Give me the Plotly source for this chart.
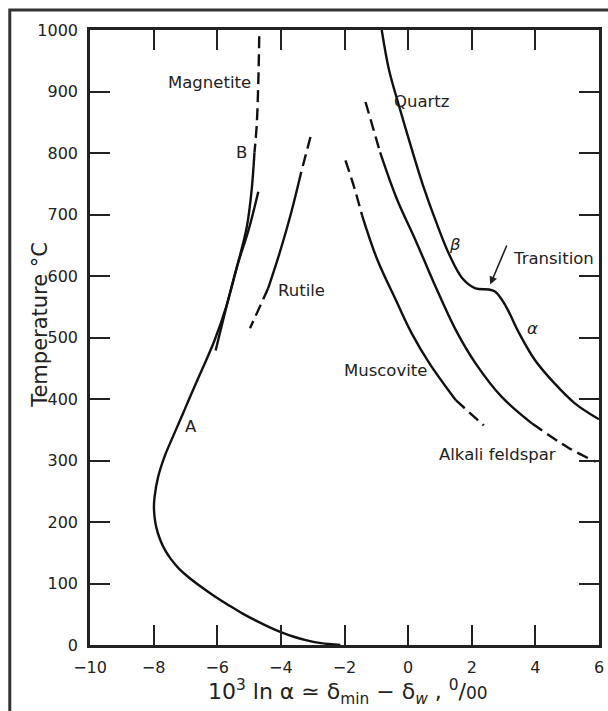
import plotly.graph_objects as go

# ---------------- data ----------------
x_tick_vals = [-10, -8, -6, -4, -2, 0, 2, 4, 6]
x_tick_text = ["\u221210", "\u22128", "\u22126", "\u22124", "\u22122", "0", "2", "4", "6"]
y_tick_vals = [0, 100, 200, 300, 400, 500, 600, 700, 800, 900, 1000]
y_tick_text = [str(v) for v in y_tick_vals]

# Magnetite
mag_dash_x = [-4.68, -4.71, -4.76, -4.83]
mag_dash_t = [990, 914, 845, 801]
mag_main_x = [-4.83, -4.92, -5.07, -5.38, -5.72, -6.08, -6.46, -6.86, -7.08, -7.40, -7.66,
              -7.86, -7.97, -7.99, -7.97, -7.91, -7.80, -7.65, -7.46, -7.22, -6.92, -6.52,
              -6.05, -5.62, -5.20, -4.80, -4.40, -4.00, -3.57, -3.15, -2.74, -2.13]
mag_main_t = [801, 739, 680, 615, 550, 496, 450, 403, 376, 338, 306,
              273, 241, 225, 208, 190, 172, 155, 140, 125, 111, 95,
              78, 64, 51, 40, 30, 21, 13, 7, 3, 0]
mag_short_x = [-4.71, -5.02, -5.38, -5.74, -6.05]
mag_short_t = [737, 674, 615, 544, 479]

# Rutile
rut_top_x = [-3.07, -3.36]
rut_top_t = [826, 769]
rut_mid_x = [-3.36, -3.67, -4.03, -4.40]
rut_mid_t = [769, 704, 639, 580]
rut_bot_x = [-4.40, -4.97]
rut_bot_t = [580, 515]

# Quartz
qtz_x = [-0.83, -0.60, -0.26, 0.11, 0.47, 0.88, 1.30, 1.71, 2.12, 2.54, 2.75, 3.06, 3.47,
         3.99, 4.61, 5.24, 6.00]
qtz_t = [1000, 935, 872, 807, 747, 688, 634, 596, 580, 578, 574, 552, 509,
         463, 425, 393, 367]

# Alkali feldspar
afs_top_x = [-1.34, -0.88]
afs_top_t = [883, 801]
afs_mid_x = [-0.88, -0.36, 0.26, 0.80, 1.50, 2.12, 2.95, 3.90]
afs_mid_t = [801, 726, 655, 590, 512, 458, 403, 360]
afs_bot_x = [3.90, 5.06, 5.90]
afs_bot_t = [360, 320, 298]

# Muscovite
mus_top_x = [-1.97, -1.70, -1.45]
mus_top_t = [788, 745, 699]
mus_mid_x = [-1.45, -0.98, -0.36, 0.10, 0.67, 1.50]
mus_mid_t = [699, 628, 558, 508, 458, 398]
mus_bot_x = [1.50, 2.38]
mus_bot_t = [398, 357]

# Curve labels
label_text = ["Magnetite", "B", "A", "Rutile", "Quartz", "Muscovite", "Alkali feldspar",
              "Transition", "<i>\u03b2</i>", "<i>\u03b1</i>"]
label_x = [-6.24, -5.23, -6.83, -3.36, 0.42, -0.70, 2.81, 4.56, 1.47, 3.90]
label_t = [914, 801, 355, 577, 883, 447, 309, 628, 652, 515]

FONT = "DejaVu Sans"
INK = "#111111"

fig = go.Figure()


def add_curve(x, t, dash="solid", smooth=True):
    fig.add_trace(go.Scatter(
        x=x, y=t, mode="lines", showlegend=False, hoverinfo="skip",
        line=dict(color=INK, width=2.4, dash=dash,
                  shape="spline" if smooth else "linear", smoothing=1.0)))


DASH = "12px,6px"
add_curve(mag_dash_x, mag_dash_t, DASH)
add_curve(mag_main_x, mag_main_t)
add_curve(mag_short_x, mag_short_t)
add_curve(rut_top_x, rut_top_t, DASH, False)
add_curve(rut_mid_x, rut_mid_t)
add_curve(rut_bot_x, rut_bot_t, DASH, False)
add_curve(qtz_x, qtz_t)
add_curve(afs_top_x, afs_top_t, DASH, False)
add_curve(afs_mid_x, afs_mid_t)
add_curve(afs_bot_x, afs_bot_t, DASH)
add_curve(mus_top_x, mus_top_t, DASH)
add_curve(mus_mid_x, mus_mid_t)
add_curve(mus_bot_x, mus_bot_t, DASH, False)

for txt, lx, lt in zip(label_text, label_x, label_t):
    fig.add_annotation(x=lx, y=lt, text=txt, showarrow=False,
                       font=dict(family=FONT, size=16.5, color="#222"))

# Transition arrow
fig.add_annotation(x=2.58, y=586, ax=3.12, ay=652, axref="x", ayref="y", text="",
                   showarrow=True, arrowhead=2, arrowsize=1, arrowwidth=1.6,
                   arrowcolor="#222")

axis_common = dict(
    showline=True, linewidth=2.5, linecolor="#222", mirror="ticks",
    ticks="inside", ticklen=20, tickwidth=2, tickcolor="#222",
    showgrid=False, zeroline=False,
    tickfont=dict(family=FONT, size=16, color="#222"),
)

fig.update_xaxes(range=[-10, 6], tickmode="array", tickvals=x_tick_vals,
                 ticktext=x_tick_text, ticklabelstandoff=6, **axis_common)
fig.update_yaxes(range=[0, 1000], tickmode="array", tickvals=y_tick_vals,
                 ticktext=y_tick_text, ticklabelstandoff=6, **axis_common)

# Axis titles as annotations
fig.add_annotation(xref="paper", yref="paper", x=-0.1245, y=0.52,
                   text="Temperature \u00b0C", textangle=-90, showarrow=False,
                   font=dict(family=FONT, size=21, color="#222"))
fig.add_annotation(xref="paper", yref="paper", x=0.506, y=-0.047, yanchor="top",
                   text="10<sup>3</sup> ln \u03b1 \u2243 \u03b4<sub>min</sub> \u2212 \u03b4<sub><i>w</i></sub> , "
                        "<sup>0</sup>/<span style='font-size:17px'>00</span>",
                   showarrow=False, font=dict(family=FONT, size=22, color="#222"))

# Outer frame (right and bottom edges lie beyond the picture)
fig.add_shape(type="rect", xref="paper", yref="paper",
              x0=-0.1576, x1=1.03, y0=-0.13, y1=1.0325,
              line=dict(color="#333", width=3))

fig.update_layout(
    width=608, height=711,
    margin=dict(l=90, r=4, t=30, b=66),
    plot_bgcolor="white", paper_bgcolor="white",
    font=dict(family=FONT),
)

fig.write_html("out.html")
